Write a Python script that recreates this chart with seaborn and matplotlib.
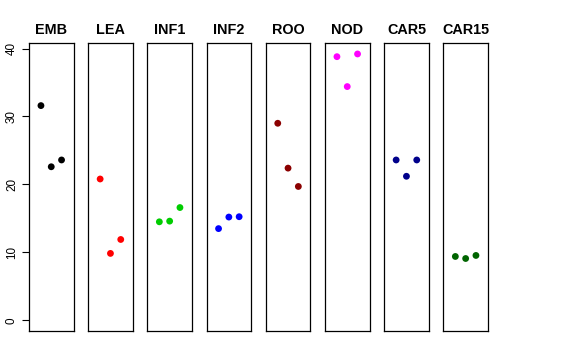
import matplotlib
matplotlib.use("Agg")
import matplotlib.pyplot as plt
import seaborn as sns
import pandas as pd

sns.set_style("white")
plt.rcParams['font.family'] = ['Liberation Sans', 'DejaVu Sans']
plt.rcParams['text.color'] = 'black'
plt.rcParams['ytick.color'] = 'black'
plt.rcParams['ytick.labelcolor'] = 'black'

tissues = ["EMB", "LEA", "INF1", "INF2", "ROO", "NOD", "CAR5", "CAR15"]
colors = ["#000000", "#FF0000", "#00CD00", "#0000FF", "#8B0000", "#FF00FF", "#00008B", "#006400"]
replicate = [1, 2, 3]
EMB = [31.6, 22.6, 23.6]
LEA = [20.8, 9.85, 11.9]
INF1 = [14.5, 14.6, 16.6]
INF2 = [13.5, 15.2, 15.25]
ROO = [29.0, 22.4, 19.7]
NOD = [38.8, 34.4, 39.2]
CAR5 = [23.6, 21.2, 23.6]
CAR15 = [9.4, 9.1, 9.55]
values = [EMB, LEA, INF1, INF2, ROO, NOD, CAR5, CAR15]
yticks = [0, 10, 20, 30, 40]

rows = []
for t, vals in zip(tissues, values):
    for r, v in zip(replicate, vals):
        rows.append({"tissue": t, "rep": r, "value": v})
df = pd.DataFrame(rows)

W, H = 576, 360
fig = plt.figure(figsize=(W / 100, H / 100), dpi=100)

ymax = max(max(v) for v in values)
pad = 0.04 * ymax
left0, step, width = 29.0, 59.2, 44.5
bottom, height = 29.0, 287.7

for i, (t, c) in enumerate(zip(tissues, colors)):
    ax = fig.add_axes([(left0 + i * step) / W, bottom / H, width / W, height / H])
    sub = df[df.tissue == t]
    sns.scatterplot(data=sub, x="rep", y="value", color=c, s=24, edgecolor="none", ax=ax, legend=False)
    ax.set_xlim(-0.16, 4.16)
    ax.set_ylim(0 - pad, ymax + pad)
    ax.set_xticks([])
    ax.set_xlabel("")
    ax.set_ylabel("")
    ax.set_title(t, fontsize=10.4, fontweight="bold", pad=7, color="black")
    for sp in ax.spines.values():
        sp.set_visible(True)
        sp.set_color("black")
        sp.set_linewidth(0.9)
    if i == 0:
        ax.set_yticks(yticks)
        ax.set_yticklabels([str(v) for v in yticks], rotation=90, va="center", fontsize=8.4, color="black")
        ax.tick_params(axis="y", direction="out", length=5, width=0.8, pad=3, left=True, colors="black")
    else:
        ax.set_yticks([])

fig.savefig("out.png", dpi=100)
